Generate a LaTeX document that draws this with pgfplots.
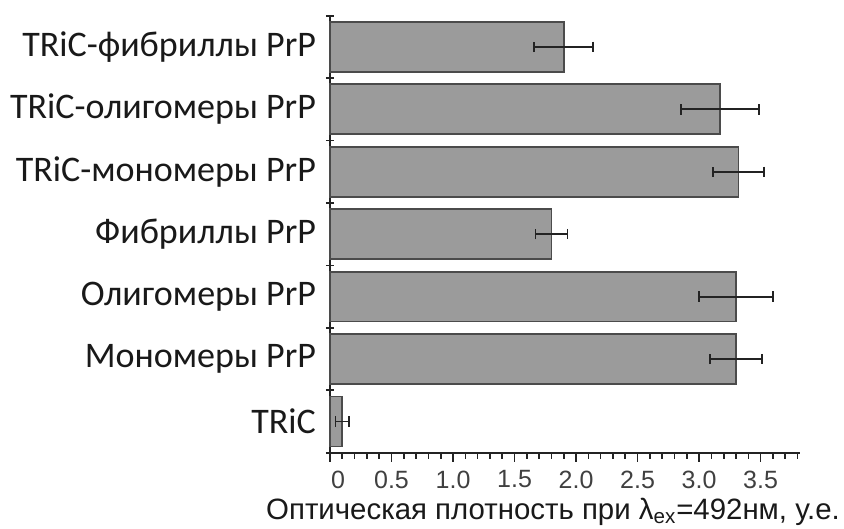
\documentclass[border=0pt]{standalone}
\usepackage{fontspec}
\setmainfont{Liberation Sans}
\newfontfamily\calib{Carlito}
\usepackage{pgfplots}
\pgfplotsset{compat=1.18}
\usetikzlibrary{calc}
\definecolor{barfill}{RGB}{155,155,155}
\definecolor{baredge}{RGB}{75,75,75}
\definecolor{axcol}{RGB}{35,35,35}

\pgfplotstableread{
i v e
0 0.10 0.055
1 3.30 0.21
2 3.30 0.30
3 1.80 0.13
4 3.32 0.205
5 3.17 0.315
6 1.90 0.24
}\datatable

\begin{document}
\begin{tikzpicture}
\begin{axis}[
  scale only axis, width=235pt, height=218.5pt,
  xmin=0, xmax=3.82, ymin=-0.5, ymax=6.5,
  axis x line*=bottom, axis y line*=left,
  axis line style={line width=1pt, color=axcol},
  xbar, bar width=0.8,
  tick align=outside,
  major tick length=4.5pt, minor tick length=3pt,
  every tick/.style={axcol, line width=0.8pt},
  xtick={0,0.5,...,3.5},
  xticklabels={\hspace*{8pt}0,0.5,1.0,1.5,2.0,2.5,3.0,3.5},
  minor xtick={0,0.1,...,3.81},
  xticklabel style={font=\fontsize{12.5}{14}\selectfont, text=black!75, yshift=-1pt},
  ytick={0,...,6},
  yticklabels={TRiC, Мономеры PrP, Олигомеры PrP, Фибриллы PrP, TRiC-мономеры PrP, TRiC-олигомеры PrP, TRiC-фибриллы PrP},
  yticklabel style={font=\calib\fontsize{18}{20}\selectfont, text=black!90, xshift=1pt},
  y tick style={draw=none},
  extra y ticks={-0.5,0.5,1.5,2.5,3.5,4.5,5.5,6.5},
  extra y tick labels={},
  extra y tick style={y tick style={draw=axcol, line width=0.9pt}, major tick length=4pt, tick align=center},
  xlabel={Оптическая плотность при λ\textsubscript{ex}=492нм, у.е.},
  xlabel style={font=\fontsize{14.7}{16}\selectfont, text=black!90, at={(axis description cs:0.5,0)}, anchor=north, xshift=-6pt, yshift=-19pt},
  clip=false,
]
\addplot[fill=barfill, draw=baredge, line width=0.9pt,
  error bars/.cd, x dir=both, x explicit, error mark=|,
  error bar style={line width=0.9pt, axcol},
  error mark options={mark size=2.6pt, line width=0.9pt, axcol}]
  table[x=v, y=i, x error=e]{\datatable};
\coordinate (bl) at (rel axis cs:0,0);
\coordinate (tr) at (rel axis cs:1,1);
\end{axis}
\pgfresetboundingbox
\path ($(bl)+(-165pt,-37.75pt)$) rectangle ($(tr)+(22pt,7.85pt)$);
\end{tikzpicture}
\end{document}
